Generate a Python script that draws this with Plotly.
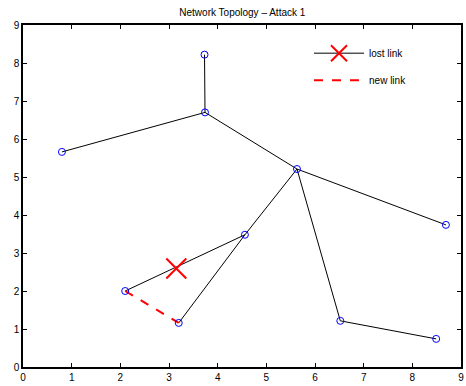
import plotly.graph_objects as go

# Node coordinates
node_x = [0.80, 3.73, 3.74, 5.63, 8.69, 4.56, 2.10, 3.20, 6.52, 8.49]
node_y = [5.66, 8.22, 6.70, 5.21, 3.74, 3.48, 2.00, 1.16, 1.215, 0.74]

# Existing links (pairs of node indices)
edges = [(0, 2), (1, 2), (2, 3), (3, 4), (3, 5), (5, 6), (5, 7), (3, 8), (8, 9)]

# New link
new_link = (6, 7)

# Lost-link marker position (on the link between nodes 6 and 5)
lost_x = [3.15]
lost_y = [2.59]

title = "Network Topology \u2013 Attack 1"
ticks = [0, 1, 2, 3, 4, 5, 6, 7, 8, 9]

fig = go.Figure()

ex, ey = [], []
for a, b in edges:
    ex += [node_x[a], node_x[b], None]
    ey += [node_y[a], node_y[b], None]
fig.add_trace(go.Scatter(x=ex, y=ey, mode="lines",
                         line=dict(color="black", width=1), showlegend=False,
                         hoverinfo="skip"))

fig.add_trace(go.Scatter(x=[node_x[new_link[0]], node_x[new_link[1]]],
                         y=[node_y[new_link[0]], node_y[new_link[1]]],
                         mode="lines", name="new link",
                         line=dict(color="red", width=2, dash="dash"),
                         legendrank=2, legendgroup="b"))

fig.add_trace(go.Scatter(x=node_x, y=node_y, mode="markers",
                         marker=dict(symbol="circle-open", size=7,
                                     color="blue", line=dict(width=1)),
                         showlegend=False))

fig.add_trace(go.Scatter(x=lost_x, y=lost_y, mode="lines+markers",
                         name="lost link",
                         line=dict(color="black", width=1),
                         marker=dict(symbol="x-thin-open", size=20, color="red",
                                     line=dict(width=2, color="red")),
                         legendrank=1, legendgroup="a"))

axis_common = dict(range=[0, 9], tickvals=ticks, ticks="inside", ticklen=4,
                   tickcolor="black", showline=True, linecolor="black",
                   linewidth=1.5, mirror="ticks", showgrid=False,
                   zeroline=False, tickfont=dict(size=10, color="black"))

fig.update_layout(
    width=466, height=386,
    margin=dict(l=23, r=3, t=25, b=13),
    paper_bgcolor="white", plot_bgcolor="white",
    font=dict(family="Liberation Sans, Arial, sans-serif", size=10, color="black"),
    title=dict(text=title, x=0.52, xanchor="center", y=0.967, yanchor="middle",
               font=dict(size=10)),
    xaxis=axis_common,
    yaxis=axis_common,
    legend=dict(x=0.653, y=0.96, xanchor="left", yanchor="top",
                bgcolor="rgba(0,0,0,0)", borderwidth=0, tracegroupgap=8,
                itemwidth=50, font=dict(size=10)),
)

fig.write_html("out.html")
